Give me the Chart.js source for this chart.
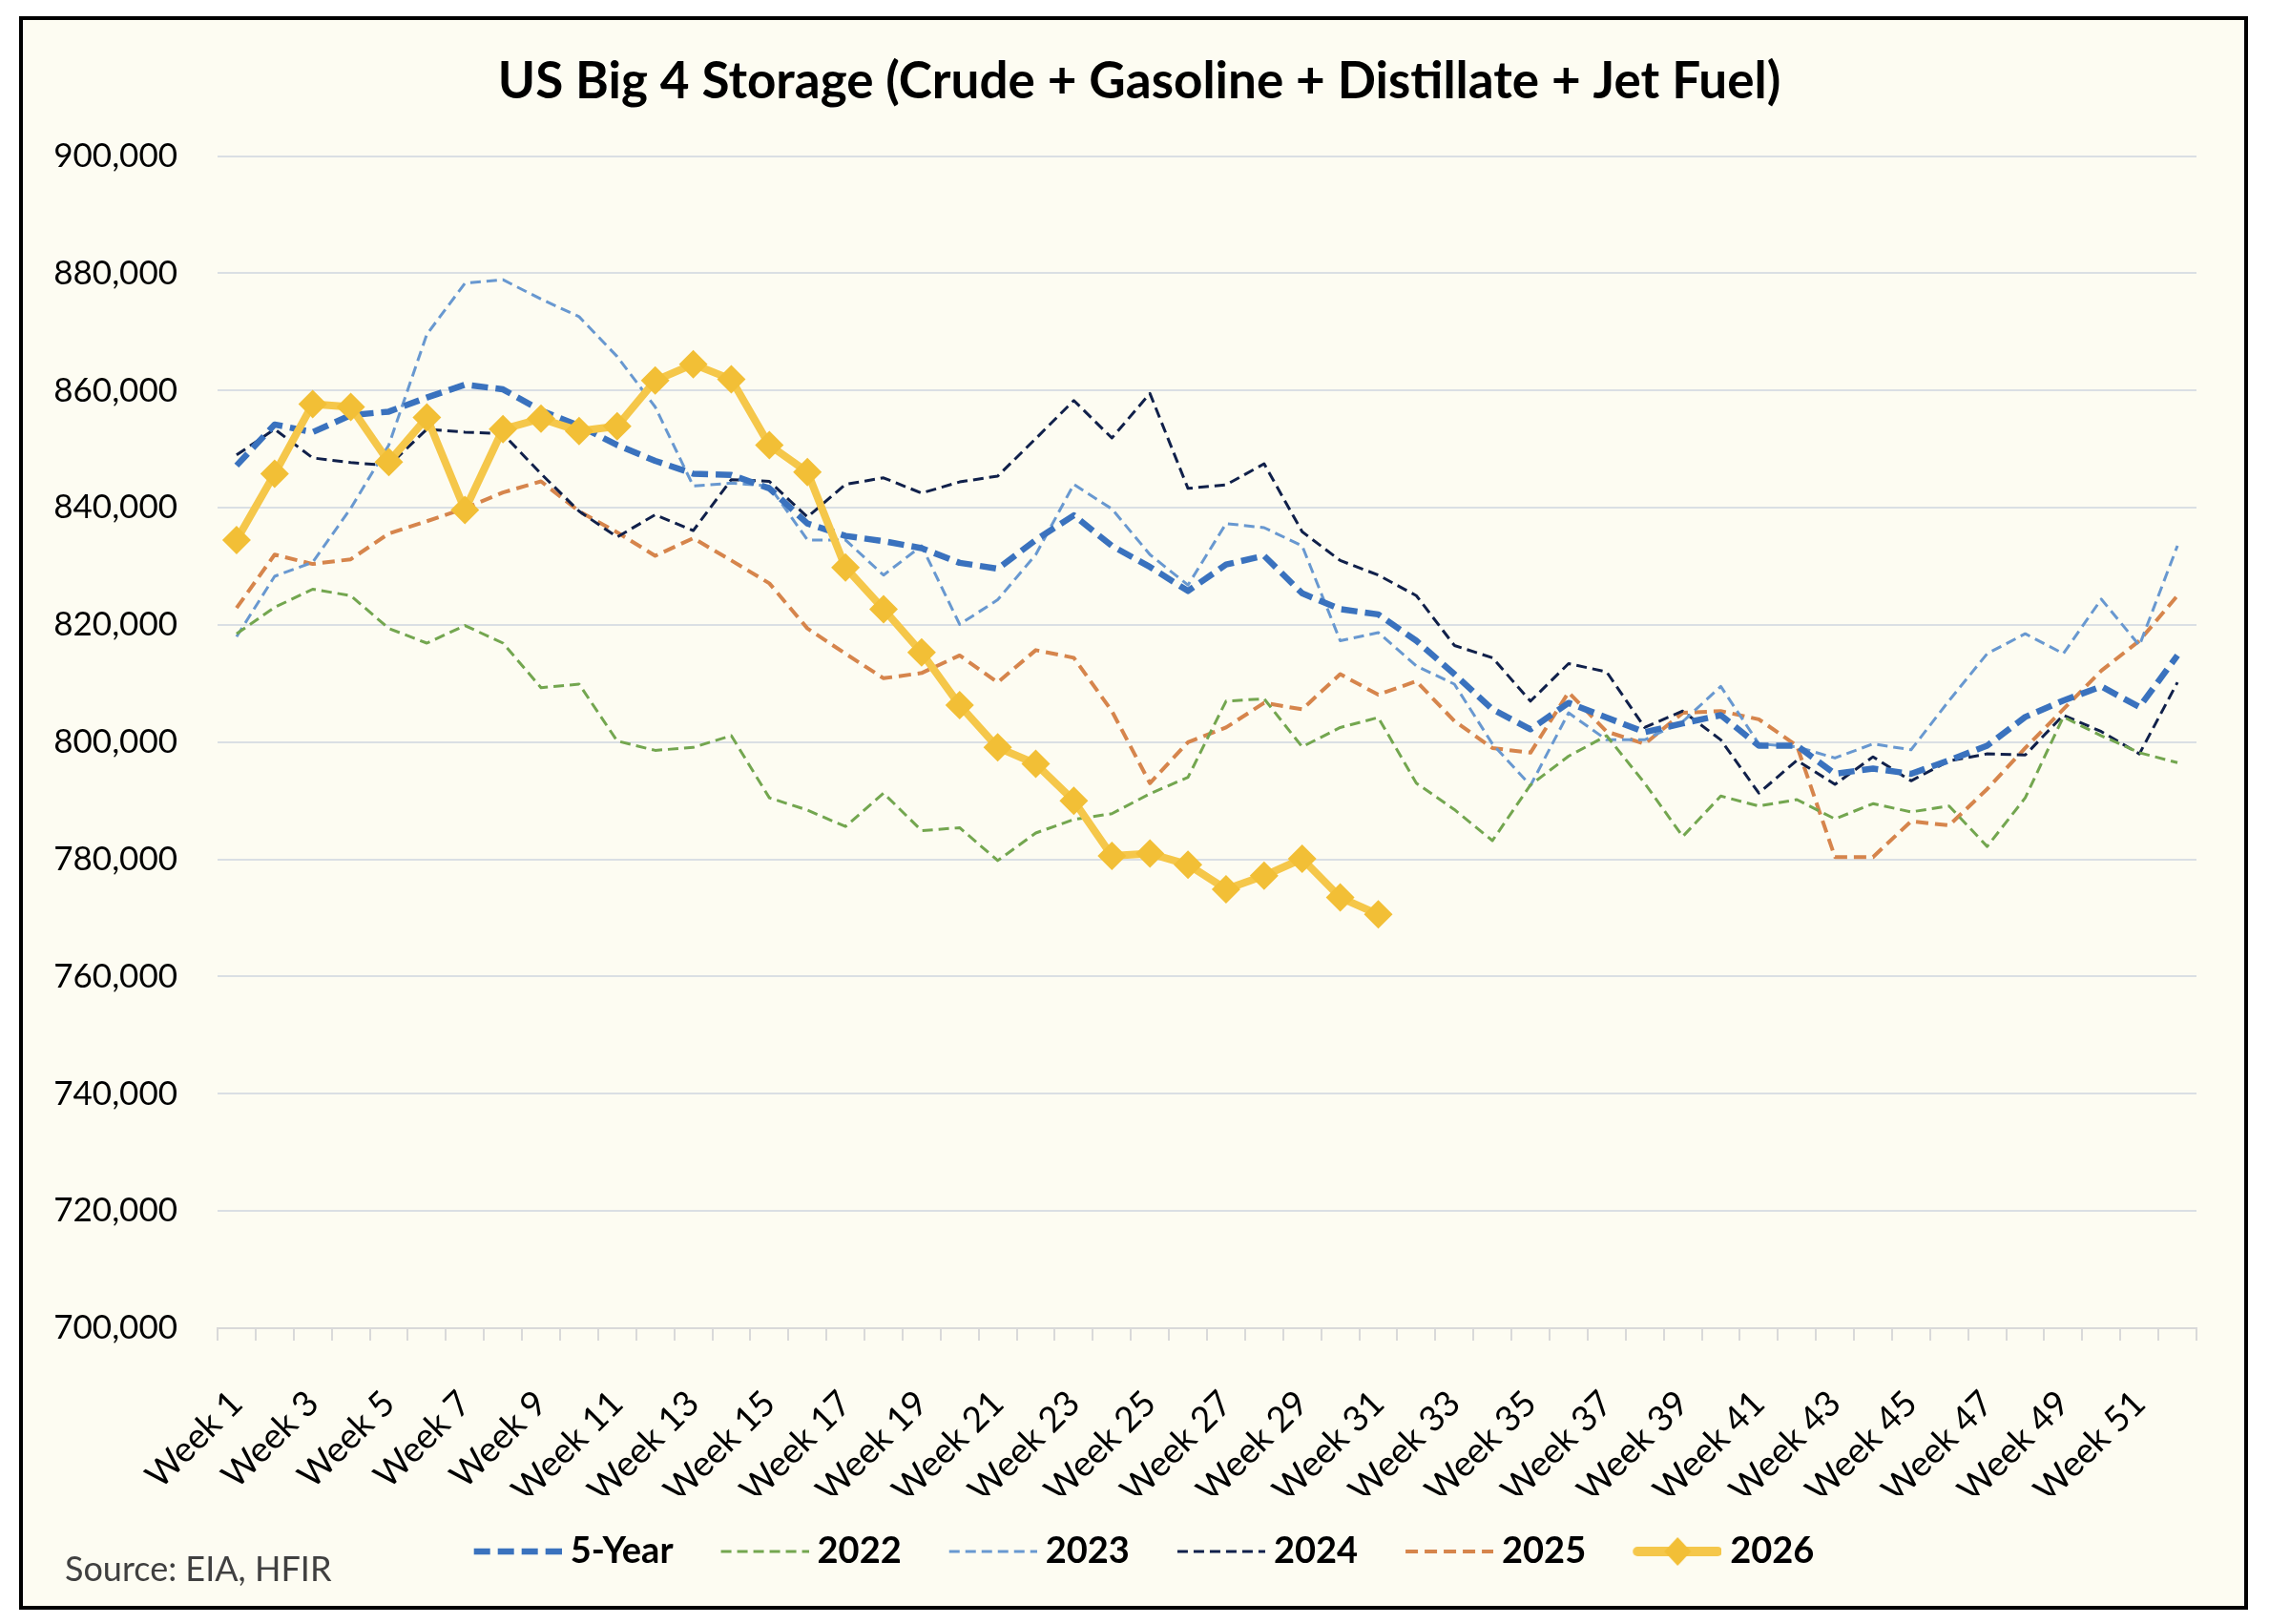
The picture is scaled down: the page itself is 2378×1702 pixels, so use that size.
<!DOCTYPE html>
<html>
<head>
<meta charset="utf-8">
<script src="https://cdn.jsdelivr.net/npm/chart.js@4.4.1/dist/chart.umd.min.js"></script>
<style>
  html, body { margin: 0; padding: 0; background: #ffffff; }
  #frame {
    position: absolute; left: 20px; top: 17px;
    width: 2328px; height: 1662px;
    border: 4px solid #000; background: #FDFCF2; overflow: hidden;
  }
  #chart { position: absolute; left: 0; top: 0; }
  #source {
    position: absolute; left: 44px; top: 1604px;
    font-family: Lato, sans-serif; font-size: 36px; line-height: 36px; color: #404040;
  }
</style>
</head>
<body>
<div id="frame">
  <canvas id="chart" width="2340" height="1662"></canvas>
  <div id="source">Source: EIA, HFIR</div>
</div>
<script>
// weekly storage, thousand barrels
const weeks = [];
for (let i = 1; i <= 52; i++) weeks.push('Week ' + i);

const fiveYear = [847200, 854200, 852900, 855800, 856400, 858800, 861000, 860200, 856600, 854000,
    850700, 848000, 845800, 845600, 843300, 837300, 835200, 834300, 833100, 830600,
    829600, 834500, 838700, 833500, 829900, 825800, 830300, 831800, 825400, 822700,
    821800, 817300, 811600, 805600, 802200, 806700, 804200, 801700, 803200, 804600,
    799400, 799400, 794600, 795500, 794600, 796900, 799400, 804300, 807100, 809500,
    806000, 814800];
const y2022 = [818500, 823000, 826100, 825000, 819400, 816900, 819900, 816900, 809300, 809900,
    800200, 798600, 799100, 801100, 790500, 788400, 785600, 791300, 784900, 785400,
    779800, 784500, 786800, 787800, 791200, 794000, 807000, 807400, 799200, 802500,
    804200, 793000, 788500, 783200, 792700, 797600, 801100, 793000, 783900, 790800,
    789100, 790200, 786900, 789500, 788100, 789100, 782200, 790500, 804300, 801100,
    798200, 796500];
const y2023 = [818000, 828300, 830700, 839900, 850700, 869600, 878300, 878900, 875600, 872600,
    865800, 857200, 843700, 844200, 843700, 834500, 834500, 828500, 833500, 820100,
    824300, 832000, 844000, 839800, 832000, 826800, 837300, 836600, 833500, 817300,
    818700, 813000, 809900, 799700, 792600, 805000, 800400, 800400, 803500, 809500,
    799700, 799200, 797300, 799700, 798700, 807100, 815100, 818500, 815100, 824400,
    816500, 833500];
const y2024 = [849000, 853400, 848500, 847700, 847200, 853400, 852900, 852600, 845800, 839400,
    835000, 838800, 836100, 844800, 844500, 838400, 844000, 845100, 842500, 844400,
    845400, 851800, 858300, 851900, 859500, 843300, 843900, 847500, 835900, 831000,
    828500, 825000, 816500, 814400, 807000, 813400, 812000, 802500, 805300, 800400,
    791300, 796900, 792800, 797500, 793400, 796800, 798000, 797800, 804600, 801800,
    798000, 810200];
const y2025 = [822900, 832000, 830400, 831200, 835600, 837700, 839900, 842600, 844500, 839400,
    835800, 831800, 834800, 831000, 827100, 819400, 815100, 810900, 811800, 814800,
    810200, 815700, 814400, 805300, 793000, 800000, 802500, 806700, 805600, 811600,
    808100, 810400, 803600, 799000, 798200, 808500, 801800, 799700, 805000, 805300,
    803900, 799400, 780400, 780400, 786500, 785800, 792000, 799000, 805600, 812200,
    817300, 825000];
const y2026 = [834500, 845800, 857700, 857200, 847800, 855400, 839600, 853400, 855200, 853100,
    853900, 861700, 864500, 861900, 850700, 846100, 829800, 822700, 815300, 806300,
    799100, 796300, 790000, 780600, 781000, 779100, 774900, 777200, 780100, 773500,
    770600];

const yTicks = { min: 700000, max: 900000, step: 20000 };

const series = [
    { label: '5-Year', data: fiveYear, color: '#3A72BE', width: 6.5, dash: [17, 8], order: 1 },
    { label: '2022', data: y2022, color: '#73A64F', width: 3, dash: [11, 6], order: 2 },
    { label: '2023', data: y2023, color: '#6898D0', width: 3, dash: [11, 6], order: 2 },
    { label: '2024', data: y2024, color: '#10204A', width: 3, dash: [11, 6], order: 2 },
    { label: '2025', data: y2025, color: '#D6854C', width: 4, dash: [13, 7], order: 2 },
    { label: '2026', data: y2026, color: '#F5C74A', width: 8, dash: [], order: 0, marker: true }
];

// legend samples: a short stroke in the series style (plus a diamond for 2026)
const makeSample = (s) => {
    const c = document.createElement('canvas');
    c.width = 112;
    c.height = 36;
    const g = c.getContext('2d');
    g.strokeStyle = s.color;
    g.lineWidth = s.marker ? 10 : s.width;
    g.lineCap = s.marker ? 'round' : 'butt';
    g.setLineDash(s.dash);
    g.beginPath();
    g.moveTo(s.marker ? 24 : 20, 18);
    g.lineTo(s.marker ? 108 : 112, 18);
    g.stroke();
    if (s.marker) {
        g.fillStyle = '#F2BF36';
        g.beginPath();
        g.moveTo(66, 3);
        g.lineTo(80, 18);
        g.lineTo(66, 33);
        g.lineTo(52, 18);
        g.closePath();
        g.fill();
    }
    return c;
};
const samples = series.map(makeSample);

const datasets = series.map(s => ({
    label: s.label,
    data: s.data,
    borderColor: s.color,
    backgroundColor: s.color,
    borderWidth: s.width,
    borderDash: s.dash,
    borderJoinStyle: 'round',
    tension: 0,
    order: s.order,
    pointRadius: s.marker ? 15 : 0,
    pointHoverRadius: s.marker ? 15 : 0,
    pointStyle: 'rectRot',
    pointBackgroundColor: '#F2BF36',
    pointBorderWidth: 0
}));

// y tick labels sit left of the axis box, don't clip them
const noLabelClip = {
    id: 'noLabelClip',
    beforeDraw(chart) {
        chart.scales.y._computeLabelArea = () => undefined;
    }
};

Chart.defaults.font.family = 'Lato, sans-serif';
Chart.defaults.color = '#000000';

new Chart(document.getElementById('chart'), {
    type: 'line',
    data: { labels: weeks, datasets: datasets },
    plugins: [noLabelClip],
    options: {
        responsive: false,
        animation: false,
        layout: { padding: { top: 0, left: 62, right: 62, bottom: 28 } },
        plugins: {
            title: {
                display: true,
                text: 'US Big 4 Storage (Crude + Gasoline + Distillate + Jet Fuel)',
                color: '#000000',
                font: { size: 53, weight: 'bold' },
                padding: { top: 33, bottom: 46 }
            },
            legend: {
                position: 'bottom',
                labels: {
                    usePointStyle: true,
                    pointStyleWidth: 92,
                    padding: 40,
                    color: '#000000',
                    font: { size: 38, weight: 'bold' },
                    generateLabels: (chart) => {
                        const items = Chart.defaults.plugins.legend.labels.generateLabels(chart);
                        items.sort((a, b) => a.datasetIndex - b.datasetIndex);
                        items.forEach(it => { it.pointStyle = samples[it.datasetIndex]; });
                        return items;
                    }
                }
            },
            tooltip: { enabled: false }
        },
        scales: {
            x: {
                offset: true,
                grid: {
                    drawOnChartArea: false,
                    drawTicks: true,
                    tickLength: 13,
                    color: '#D9D9D9',
                    lineWidth: 2,
                    offset: true
                },
                border: { display: true, color: '#D9D9D9', width: 2 },
                ticks: {
                    autoSkip: false,
                    maxRotation: 45,
                    minRotation: 45,
                    padding: 44,
                    color: '#000000',
                    font: { size: 37 },
                    callback: (v, i) => (i % 2 === 0 ? weeks[i] : '')
                },
                afterFit: (scale) => { scale.height = 175; }
            },
            y: {
                min: yTicks.min,
                max: yTicks.max,
                grid: { color: '#DADFE4', lineWidth: 2, drawTicks: false },
                border: { display: false },
                ticks: {
                    stepSize: yTicks.step,
                    padding: 42,
                    color: '#000000',
                    font: { size: 35 },
                    callback: (v) => v.toLocaleString('en-US')
                },
                afterFit: (scale) => { scale.width = 142; }
            }
        }
    }
});
</script>
</body>
</html>
